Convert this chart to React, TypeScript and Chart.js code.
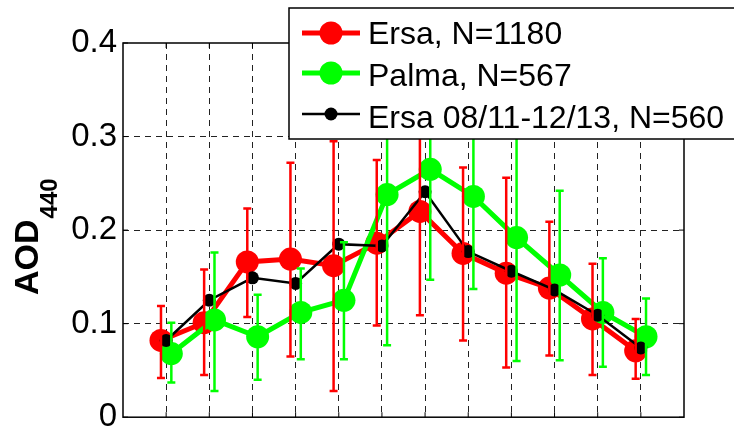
import React, { useEffect, useRef } from 'react';
import { Chart, registerables } from 'chart.js';

Chart.register(...registerables);

const months = [1, 2, 3, 4, 5, 6, 7, 8, 9, 10, 11, 12];

const ersa = [0.082, 0.101, 0.166, 0.169, 0.162, 0.186, 0.220, 0.175, 0.154, 0.138, 0.105, 0.071];
const ersaLow = [0.042, 0.045, 0.107, 0.065, 0.028, 0.098, 0.109, 0.082, 0.053, 0.066, 0.045, 0.041];
const ersaHigh = [0.119, 0.158, 0.223, 0.272, 0.295, 0.275, 0.335, 0.267, 0.256, 0.209, 0.164, 0.105];

const palma = [0.068, 0.104, 0.086, 0.112, 0.125, 0.238, 0.265, 0.236, 0.192, 0.152, 0.112, 0.086];
const palmaLow = [0.037, 0.028, 0.040, 0.062, 0.062, 0.077, 0.147, 0.137, 0.060, 0.061, 0.054, 0.045];
const palmaHigh = [0.101, 0.176, 0.131, 0.159, 0.187, 0.399, 0.383, 0.335, 0.325, 0.242, 0.170, 0.127];

const ersaSub = [0.082, 0.125, 0.149, 0.143, 0.185, 0.183, 0.241, 0.177, 0.156, 0.136, 0.109, 0.074];

const legendLabels = ['Ersa, N=1180', 'Palma, N=567', 'Ersa 08/11-12/13, N=560'];
const yTicks = [0, 0.1, 0.2, 0.3, 0.4];
const yTickLabels = ['0', '0.1', '0.2', '0.3', '0.4'];
const yTitle = 'AOD';
const yTitleSub = '440';

const RED = '#ff0000';
const GREEN = '#00ff00';
const BLACK = '#000000';
const FONT = '"Liberation Sans", Arial, sans-serif';
const SHIFT = 0.12;

const errorBars = {
  id: 'errorBars',
  afterDatasetsDraw(chart: any) {
    const { ctx, scales } = chart;
    const x = scales.x;
    const y = scales.y;
    chart.data.datasets.forEach((ds: any) => {
      if (!ds.errLow) return;
      ctx.save();
      ctx.strokeStyle = ds.borderColor;
      ctx.lineWidth = 2.5;
      ds.data.forEach((p: any, i: number) => {
        const px = x.getPixelForValue(p.x);
        const yl = y.getPixelForValue(ds.errLow[i]);
        const yh = y.getPixelForValue(ds.errHigh[i]);
        ctx.beginPath();
        ctx.moveTo(px, yl);
        ctx.lineTo(px, yh);
        ctx.moveTo(px - 4, yl);
        ctx.lineTo(px + 4, yl);
        ctx.moveTo(px - 4, yh);
        ctx.lineTo(px + 4, yh);
        ctx.stroke();
      });
      ctx.restore();
    });
  },
};

const decorations = {
  id: 'decorations',
  afterDraw(chart: any) {
    const { ctx, chartArea: a, scales } = chart;
    ctx.save();
    // axes box
    ctx.strokeStyle = '#000';
    ctx.lineWidth = 1.5;
    ctx.strokeRect(a.left, a.top, a.right - a.left, a.bottom - a.top);
    // inner ticks
    ctx.lineWidth = 1;
    const tl = 5;
    ctx.beginPath();
    months.forEach((m) => {
      const px = scales.x.getPixelForValue(m);
      ctx.moveTo(px, a.bottom);
      ctx.lineTo(px, a.bottom - tl);
      ctx.moveTo(px, a.top);
      ctx.lineTo(px, a.top + tl);
    });
    yTicks.forEach((v) => {
      const py = scales.y.getPixelForValue(v);
      ctx.moveTo(a.left, py);
      ctx.lineTo(a.left + tl, py);
      ctx.moveTo(a.right, py);
      ctx.lineTo(a.right - tl, py);
    });
    ctx.stroke();

    // legend
    const lx = 289;
    const ly = 8;
    const lw = 460;
    const lh = 131;
    ctx.fillStyle = '#fff';
    ctx.fillRect(lx, ly, lw, lh);
    ctx.strokeStyle = '#000';
    ctx.lineWidth = 1.5;
    ctx.strokeRect(lx, ly, lw, lh);
    const rows = [
      { color: RED, lw: 5, r: 11.5, my: 33, ty: 44 },
      { color: GREEN, lw: 5, r: 11.5, my: 73, ty: 86 },
      { color: BLACK, lw: 2.5, r: 6.5, my: 114, ty: 128 },
    ];
    rows.forEach((row, i) => {
      ctx.strokeStyle = row.color;
      ctx.lineWidth = row.lw;
      ctx.beginPath();
      ctx.moveTo(302, row.my);
      ctx.lineTo(360, row.my);
      ctx.stroke();
      ctx.fillStyle = row.color;
      ctx.beginPath();
      ctx.arc(331, row.my, row.r, 0, Math.PI * 2);
      ctx.fill();
      ctx.fillStyle = '#000';
      ctx.font = `32px ${FONT}`;
      ctx.textAlign = 'left';
      ctx.textBaseline = 'alphabetic';
      ctx.fillText(legendLabels[i], 368, row.ty);
    });

    // y title with subscript
    ctx.translate(38, 295);
    ctx.rotate(-Math.PI / 2);
    ctx.fillStyle = '#000';
    ctx.textAlign = 'left';
    ctx.textBaseline = 'alphabetic';
    ctx.font = `bold 34px ${FONT}`;
    ctx.fillText(yTitle, 0, 0);
    const w = ctx.measureText(yTitle).width;
    ctx.font = `bold 24px ${FONT}`;
    ctx.fillText(yTitleSub, w + 1, 19);
    ctx.restore();
  },
};

export default function App() {
  const ref = useRef<HTMLCanvasElement>(null);

  useEffect(() => {
    if (!ref.current) return;
    const gridColor = (ctx: any, lo: number, hi: number) => {
      const v = ctx.tick ? ctx.tick.value : null;
      if (v === null || Math.abs(v - lo) < 1e-9 || Math.abs(v - hi) < 1e-9) return 'rgba(0,0,0,0)';
      return '#222';
    };
    const chart = new Chart(ref.current, {
      type: 'line',
      data: {
        datasets: [
          {
            label: legendLabels[0],
            data: months.map((m, i) => ({ x: m - SHIFT, y: ersa[i] })),
            errLow: ersaLow,
            errHigh: ersaHigh,
            borderColor: RED,
            backgroundColor: RED,
            borderWidth: 5,
            pointRadius: 11.5,
            pointBorderWidth: 0,
            pointBackgroundColor: RED,
            tension: 0,
            order: 3,
            clip: false,
          } as any,
          {
            label: legendLabels[1],
            data: months.map((m, i) => ({ x: m + SHIFT, y: palma[i] })),
            errLow: palmaLow,
            errHigh: palmaHigh,
            borderColor: GREEN,
            backgroundColor: GREEN,
            borderWidth: 5,
            pointRadius: 11.5,
            pointBorderWidth: 0,
            pointBackgroundColor: GREEN,
            tension: 0,
            order: 2,
            clip: false,
          } as any,
          {
            label: legendLabels[2],
            data: months.map((m, i) => ({ x: m, y: ersaSub[i] })),
            borderColor: BLACK,
            backgroundColor: BLACK,
            borderWidth: 2.5,
            pointRadius: 6.5,
            pointBorderWidth: 0,
            pointBackgroundColor: BLACK,
            tension: 0,
            order: 1,
            clip: false,
          } as any,
        ],
      },
      options: {
        animation: false,
        responsive: false,
        events: [],
        layout: { padding: { top: 43, right: 50, left: 0, bottom: 0 } },
        plugins: {
          legend: { display: false },
          tooltip: { enabled: false },
          title: { display: false },
        },
        scales: {
          x: {
            type: 'linear',
            min: 0,
            max: 13,
            afterBuildTicks: (s: any) => {
              s.ticks = [0, ...months, 13].map((v) => ({ value: v }));
            },
            afterFit: (s: any) => {
              s.height = 18;
            },
            ticks: { display: false },
            border: { display: false, dash: [6, 5] },
            grid: {
              drawTicks: false,
              color: (c: any) => gridColor(c, 0, 13),
              lineWidth: 1,
            },
          },
          y: {
            type: 'linear',
            min: 0,
            max: 0.4,
            afterBuildTicks: (s: any) => {
              s.ticks = yTicks.map((v) => ({ value: v }));
            },
            afterFit: (s: any) => {
              s.width = 123;
            },
            ticks: {
              padding: 6,
              color: '#000',
              font: { family: FONT, size: 33 },
              callback: (_v: any, i: number) => yTickLabels[i],
            },
            border: { display: false, dash: [6, 5] },
            grid: {
              drawTicks: false,
              color: (c: any) => gridColor(c, 0, 0.4),
              lineWidth: 1,
            },
          },
        },
      } as any,
      plugins: [errorBars, decorations],
    });
    return () => chart.destroy();
  }, []);

  return (
    <div style={{ position: 'fixed', left: 0, top: 0, width: 734, height: 443, background: '#fff' }}>
      <canvas ref={ref} width={734} height={443} />
    </div>
  );
}
